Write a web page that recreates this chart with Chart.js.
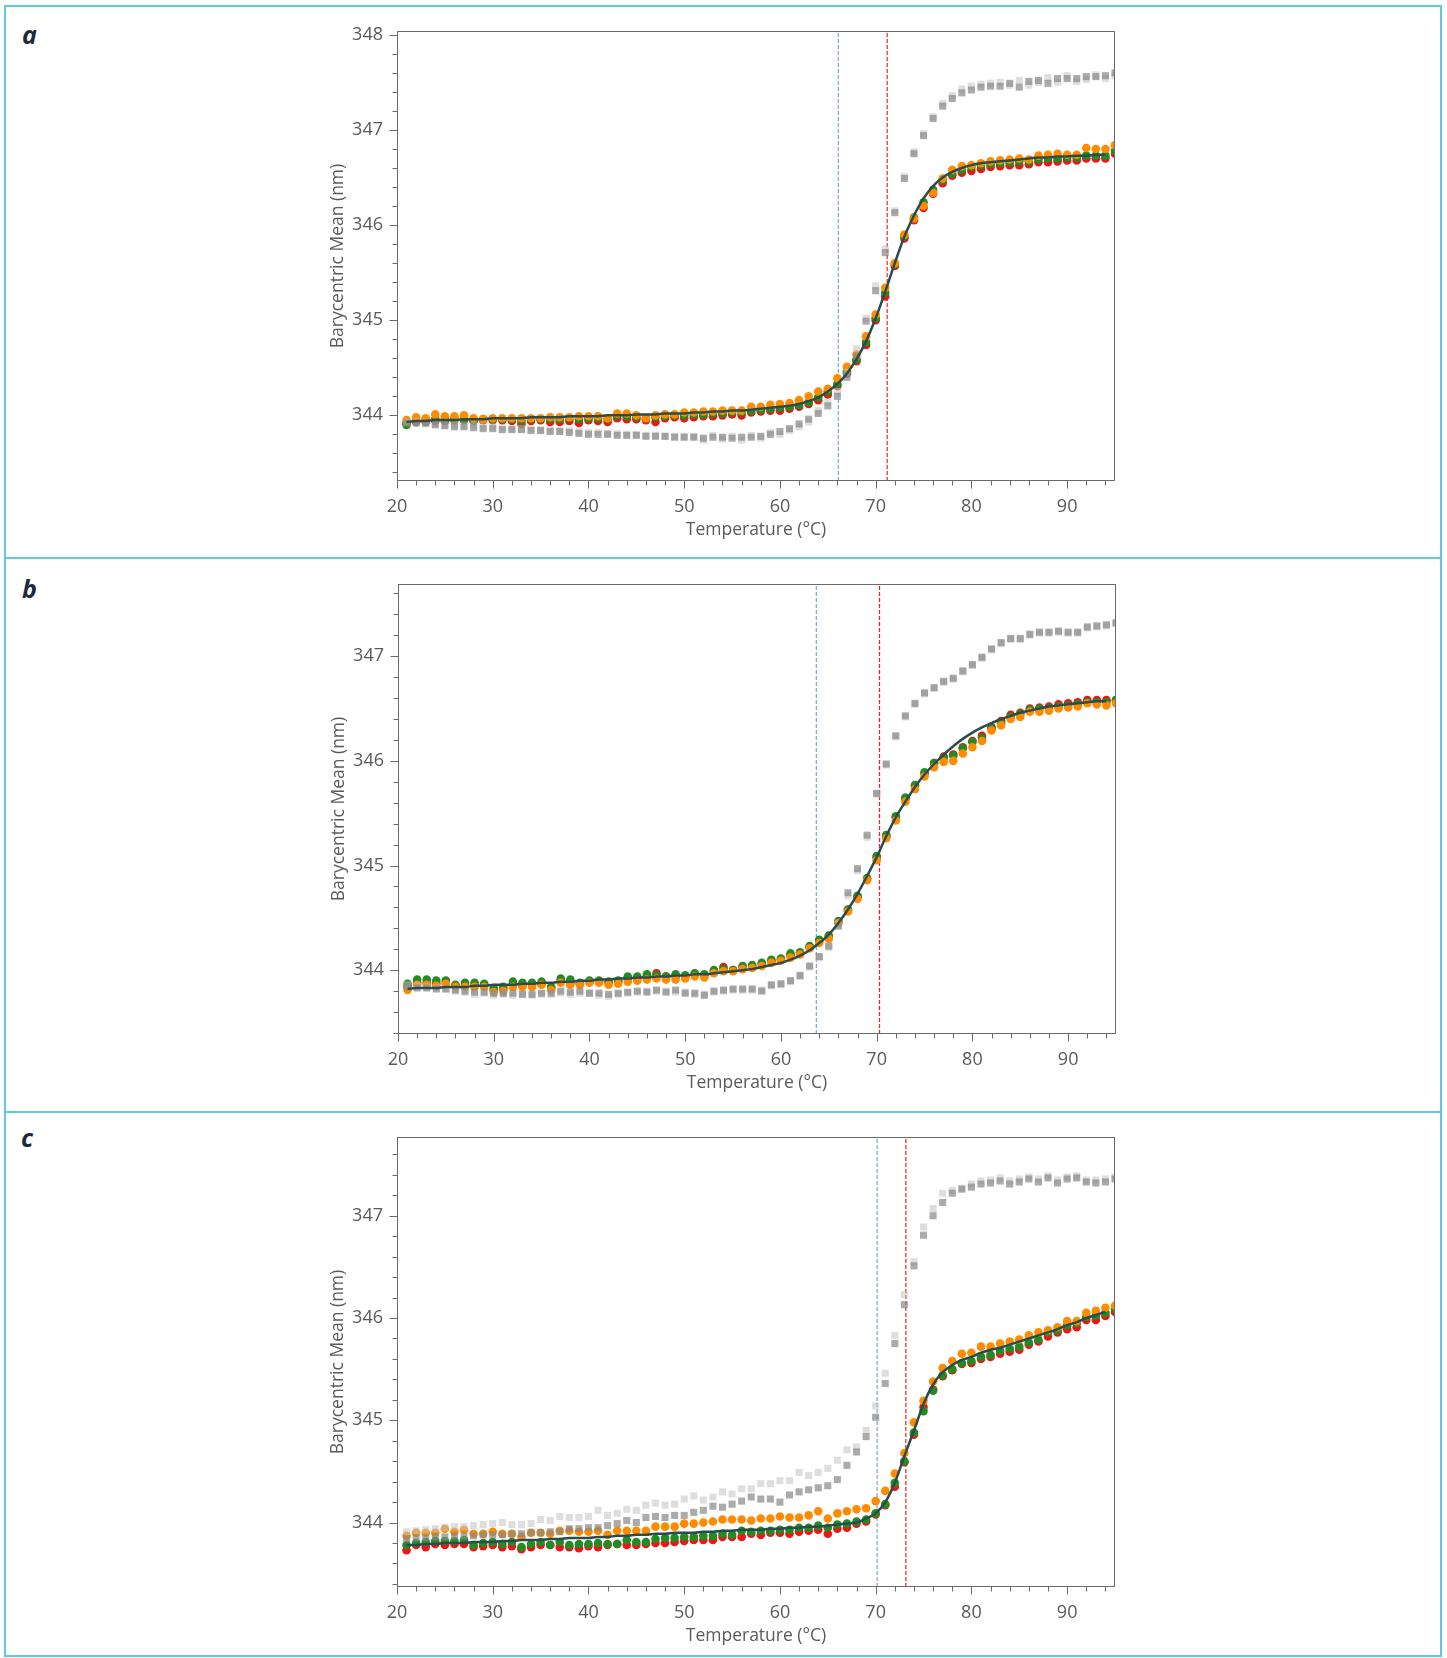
<!DOCTYPE html>
<html>
<head>
<meta charset="utf-8">
<script src="https://cdn.jsdelivr.net/npm/chart.js@4.4.1/dist/chart.umd.min.js"></script>
<style>
  body { margin: 0; background: #fff; width: 1447px; height: 1658px; position: relative; overflow: hidden; font-family: "Open Sans", sans-serif; }
  .panel { position: absolute; left: 4px; width: 1434px; border: 2px solid #5fc8e3; }
  #pa { top: 5px; height: 550px; }
  #pb { top: 557px; height: 552px; }
  #pc { top: 1111px; height: 542px; }
  .lab { position: absolute; font: italic 700 25px/1 "Open Sans", sans-serif; color: #1c2a3b; }
  canvas { position: absolute; }
  #ca { left: 240px; top: 10px; }
  #cb { left: 241px; top: 563px; }
  #cc { left: 240px; top: 1116px; }
</style>
</head>
<body>
<div class="panel" id="pa"></div>
<div class="panel" id="pb"></div>
<div class="panel" id="pc"></div>
<div class="lab" style="left:22px;top:22px">a</div>
<div class="lab" style="left:22px;top:576px">b</div>
<div class="lab" style="left:21px;top:1125px">c</div>
<canvas id="ca" width="900" height="540"></canvas>
<canvas id="cb" width="900" height="540"></canvas>
<canvas id="cc" width="900" height="540"></canvas>
<script>
// temperatures of the measured points (°C)
const temps = [21,22,23,24,25,26,27,28,29,30,31,32,33,34,35,36,37,38,39,40,41,42,43,44,45,46,47,48,49,50,
  51,52,53,54,55,56,57,58,59,60,61,62,63,64,65,66,67,68,69,70,71,72,73,74,75,76,77,78,79,80,
  81,82,83,84,85,86,87,88,89,90,91,92,93,94,95];
const xTickLabels = [20,30,40,50,60,70,80,90];

// ---- panel a ----
const aYTicks = [344,345,346,347,348];
const aOrange = [343.95,343.98,343.97,344.01,343.99,343.99,344.00,343.97,343.96,343.97,
  343.97,343.97,343.97,343.97,343.97,343.98,343.98,343.98,343.99,343.99,
  343.99,343.97,344.02,344.02,344.00,343.97,344.00,344.01,344.01,344.03,
  344.03,344.04,344.04,344.05,344.05,344.05,344.09,344.09,344.11,344.12,
  344.13,344.16,344.20,344.25,344.28,344.39,344.51,344.64,344.83,345.06,
  345.34,345.60,345.90,346.07,346.20,346.34,346.49,346.58,346.62,346.63,
  346.65,346.67,346.68,346.69,346.70,346.69,346.73,346.74,346.75,346.74,
  346.74,346.81,346.80,346.80,346.84];
const aRed = [343.92,343.93,343.93,343.94,343.94,343.95,343.95,343.94,343.95,343.95,
  343.95,343.94,343.91,343.94,343.95,343.93,343.93,343.94,343.92,343.95,
  343.94,343.93,343.97,343.96,343.96,343.95,343.93,343.97,343.98,343.97,
  343.98,343.99,343.99,344.00,344.01,344.00,344.03,344.04,344.05,344.05,
  344.07,344.09,344.12,344.16,344.22,344.31,344.44,344.57,344.74,345.00,
  345.25,345.57,345.86,346.05,346.18,346.33,346.44,346.52,346.55,346.57,
  346.59,346.61,346.62,346.63,346.63,346.64,346.66,346.66,346.67,346.68,
  346.68,346.70,346.70,346.70,346.75];
const aGreen = [343.90,343.95,343.95,343.96,343.96,343.96,343.96,343.95,343.96,343.96,
  343.96,343.96,343.94,343.96,343.96,343.96,343.96,343.97,343.96,343.97,
  343.97,343.96,344.00,343.99,343.98,343.97,343.98,343.99,344.00,344.00,
  344.01,344.01,344.02,344.02,344.03,344.03,344.05,344.06,344.07,344.08,
  344.09,344.11,344.14,344.19,344.25,344.33,344.46,344.59,344.77,345.02,
  345.29,345.59,345.88,346.08,346.24,346.37,346.47,346.54,346.58,346.61,
  346.63,346.64,346.65,346.66,346.67,346.67,346.69,346.70,346.70,346.71,
  346.71,346.73,346.73,346.73,346.78];
const aGrayDark = [343.92,343.92,343.92,343.90,343.89,343.88,343.88,343.87,343.86,343.86,
  343.85,343.85,343.85,343.84,343.84,343.83,343.83,343.82,343.81,343.80,
  343.80,343.80,343.79,343.79,343.79,343.78,343.78,343.78,343.77,343.77,
  343.77,343.76,343.77,343.77,343.76,343.77,343.77,343.78,343.80,343.83,
  343.86,343.91,343.96,344.02,344.10,344.20,344.40,344.62,344.99,345.31,
  345.71,346.13,346.49,346.75,346.94,347.12,347.25,347.33,347.39,347.42,
  347.45,347.46,347.46,347.49,347.45,347.51,347.52,347.49,347.54,347.54,
  347.54,347.56,347.56,347.57,347.60];
const aGrayLight = [343.93,343.93,343.91,343.91,343.90,343.90,343.89,343.89,343.88,343.88,
  343.87,343.86,343.86,343.86,343.85,343.85,343.84,343.84,343.83,343.82,
  343.82,343.81,343.81,343.80,343.80,343.79,343.79,343.78,343.78,343.78,
  343.78,343.74,343.79,343.75,343.78,343.74,343.79,343.76,343.82,343.80,
  343.84,343.88,343.93,344.05,344.14,344.25,344.45,344.70,345.02,345.36,
  345.75,346.15,346.51,346.77,346.96,347.14,347.28,347.36,347.43,347.46,
  347.48,347.49,347.50,347.47,347.52,347.47,347.50,347.55,347.50,347.57,
  347.51,347.53,347.58,347.54,347.57];
const aFit = [343.93,343.94,343.94,343.95,343.95,343.95,343.96,343.96,343.96,343.97,
  343.97,343.97,343.97,343.98,343.98,343.98,343.98,343.99,343.99,343.99,
  343.99,344.00,344.00,344.00,344.01,344.01,344.01,344.02,344.02,344.02,
  344.03,344.03,344.04,344.04,344.05,344.05,344.06,344.07,344.08,344.09,
  344.10,344.12,344.15,344.19,344.25,344.33,344.44,344.59,344.78,345.02,
  345.30,345.60,345.88,346.10,346.28,346.41,346.50,346.56,346.60,346.63,
  346.65,346.66,346.67,346.68,346.69,346.70,346.71,346.71,346.72,346.72,
  346.73,346.73,346.74,346.74];

// ---- panel b ----
const bYTicks = [344,345,346,347];
const bOrange = [343.81,343.86,343.86,343.85,343.87,343.84,343.84,343.84,343.84,343.79,
  343.80,343.84,343.84,343.84,343.86,343.81,343.88,343.86,343.86,343.88,
  343.88,343.86,343.87,343.89,343.90,343.91,343.92,343.91,343.91,343.92,
  343.94,343.93,343.97,343.99,343.99,344.01,344.02,344.04,344.07,344.09,
  344.12,344.15,344.21,344.26,344.30,344.45,344.56,344.68,344.86,345.05,
  345.26,345.43,345.61,345.73,345.85,345.94,345.99,346.00,346.07,346.13,
  346.19,346.29,346.34,346.40,346.42,346.47,346.47,346.48,346.50,346.51,
  346.52,346.55,346.54,346.53,346.55];
const bGreen = [343.87,343.91,343.91,343.90,343.90,343.86,343.88,343.88,343.87,343.83,
  343.84,343.89,343.88,343.88,343.89,343.84,343.92,343.91,343.88,343.90,
  343.90,343.89,343.90,343.94,343.94,343.96,343.95,343.94,343.96,343.95,
  343.97,343.96,344.00,344.01,344.00,344.04,344.05,344.07,344.10,344.11,
  344.16,344.17,344.23,344.29,344.33,344.47,344.58,344.71,344.88,345.09,
  345.29,345.47,345.65,345.77,345.89,345.98,346.03,346.05,346.12,346.18,
  346.22,346.31,346.36,346.42,346.45,346.49,346.50,346.50,346.52,346.53,
  346.54,346.56,346.56,346.56,346.58];
const bRed = [343.84,343.88,343.88,343.87,343.88,343.85,343.86,343.86,343.86,343.81,
  343.82,343.86,343.86,343.86,343.87,343.83,343.90,343.88,343.87,343.89,
  343.89,343.88,343.89,343.92,343.92,343.94,343.97,343.94,343.94,343.94,
  343.96,343.95,343.99,344.03,344.00,344.03,344.04,344.06,344.09,344.10,
  344.14,344.16,344.22,344.28,344.32,344.46,344.57,344.70,344.87,345.08,
  345.28,345.46,345.64,345.76,345.88,345.98,346.04,346.06,346.13,346.19,
  346.24,346.32,346.38,346.44,346.46,346.50,346.51,346.52,346.54,346.55,
  346.56,346.58,346.58,346.58,346.58];
const bGrayDark = [343.84,343.83,343.83,343.82,343.82,343.81,343.80,343.79,343.79,343.78,
  343.78,343.78,343.77,343.77,343.78,343.78,343.80,343.79,343.80,343.78,
  343.78,343.77,343.78,343.79,343.80,343.79,343.81,343.79,343.81,343.78,
  343.78,343.76,343.80,343.81,343.82,343.82,343.82,343.80,343.86,343.87,
  343.90,343.95,344.04,344.13,344.23,344.42,344.74,344.97,345.29,345.69,
  345.97,346.24,346.43,346.55,346.65,346.70,346.76,346.79,346.86,346.92,
  346.99,347.07,347.13,347.17,347.17,347.21,347.23,347.23,347.24,347.23,
  347.23,347.28,347.29,347.30,347.32];
const bGrayLight = [343.86,343.85,343.84,343.83,343.82,343.80,343.79,343.77,343.78,343.76,
  343.77,343.76,343.77,343.76,343.77,343.77,343.78,343.77,343.78,343.78,
  343.76,343.75,343.77,343.78,343.79,343.80,343.80,343.80,343.79,343.79,
  343.77,343.77,343.79,343.80,343.81,343.81,343.81,343.81,343.85,343.86,
  343.89,343.94,344.03,344.12,344.22,344.44,344.71,344.95,345.27,345.68,
  345.96,346.23,346.42,346.54,346.64,346.69,346.75,346.78,346.85,346.91,
  346.98,347.06,347.12,347.16,347.16,347.20,347.22,347.22,347.23,347.22,
  347.22,347.27,347.28,347.29,347.31];
const bFit = [343.82,343.83,343.83,343.83,343.84,343.84,343.84,343.85,343.85,343.86,
  343.86,343.86,343.87,343.87,343.88,343.88,343.89,343.89,343.90,343.90,
  343.91,343.91,343.92,343.92,343.93,343.93,343.94,343.94,343.95,343.95,
  343.96,343.96,343.97,343.98,343.99,344.00,344.01,344.03,344.05,344.07,
  344.10,344.14,344.19,344.26,344.34,344.45,344.58,344.73,344.90,345.08,
  345.28,345.46,345.61,345.75,345.87,345.97,346.06,346.14,346.21,346.27,
  346.32,346.36,346.40,346.43,346.46,346.48,346.50,346.52,346.53,346.54,
  346.55,346.56,346.57,346.57];

// ---- panel c ----
const cYTicks = [344,345,346,347];
const cOrange = [343.87,343.90,343.90,343.90,343.94,343.91,343.93,343.89,343.89,343.91,
  343.89,343.89,343.86,343.90,343.90,343.89,343.92,343.92,343.91,343.91,
  343.92,343.88,343.92,343.92,343.92,343.92,343.96,343.96,343.96,343.99,
  343.99,344.00,344.01,344.03,344.03,344.03,344.02,344.04,344.04,344.06,
  344.05,344.05,344.07,344.11,344.04,344.09,344.11,344.13,344.14,344.21,
  344.31,344.48,344.68,344.98,345.19,345.38,345.51,345.58,345.65,345.66,
  345.72,345.72,345.75,345.77,345.79,345.83,345.86,345.88,345.91,345.97,
  345.97,346.05,346.07,346.10,346.12];
const cGreen = [343.78,343.80,343.81,343.82,343.82,343.82,343.83,343.78,343.80,343.81,
  343.79,343.81,343.76,343.79,343.81,343.78,343.81,343.78,343.79,343.79,
  343.80,343.79,343.79,343.83,343.81,343.81,343.84,343.85,343.85,343.86,
  343.86,343.87,343.87,343.89,343.88,343.92,343.91,343.92,343.92,343.93,
  343.93,343.95,343.95,343.97,343.95,343.98,343.99,344.01,344.03,344.09,
  344.18,344.39,344.60,344.88,345.09,345.29,345.44,345.50,345.56,345.58,
  345.62,345.64,345.68,345.70,345.72,345.76,345.79,345.86,345.88,345.93,
  345.95,346.01,346.02,346.05,346.09];
const cRed = [343.73,343.78,343.76,343.79,343.78,343.79,343.79,343.76,343.77,343.78,
  343.76,343.77,343.74,343.76,343.78,343.78,343.76,343.76,343.75,343.77,
  343.76,343.78,343.79,343.78,343.78,343.79,343.80,343.80,343.81,343.82,
  343.83,343.83,343.83,343.86,343.86,343.86,343.89,343.88,343.90,343.90,
  343.89,343.91,343.92,343.93,343.89,343.94,343.95,343.99,344.01,344.08,
  344.17,344.35,344.59,344.86,345.13,345.30,345.43,345.49,345.55,345.56,
  345.60,345.62,345.65,345.67,345.69,345.74,345.77,345.82,345.86,345.89,
  345.91,345.98,345.98,346.02,346.06];
const cGrayDark = [343.84,343.85,343.85,343.86,343.86,343.87,343.87,343.87,343.88,343.88,
  343.88,343.89,343.89,343.90,343.90,343.91,343.91,343.94,343.94,343.95,
  343.95,343.97,343.99,344.02,344.00,344.05,344.06,344.05,344.07,344.07,
  344.10,344.12,344.16,344.15,344.18,344.21,344.25,344.23,344.23,344.20,
  344.27,344.30,344.32,344.34,344.36,344.42,344.56,344.69,344.84,345.03,
  345.36,345.75,346.13,346.51,346.81,347.00,347.13,347.22,347.26,347.28,
  347.31,347.32,347.34,347.31,347.33,347.36,347.33,347.37,347.32,347.36,
  347.37,347.33,347.32,347.33,347.36];
const cGrayLight = [343.91,343.92,343.93,343.94,343.95,343.96,343.96,343.97,343.98,343.99,
  344.00,343.98,343.98,343.99,344.03,344.02,344.06,344.05,344.05,344.06,
  344.12,344.07,344.09,344.13,344.12,344.17,344.19,344.17,344.18,344.23,
  344.26,344.22,344.25,344.30,344.28,344.33,344.33,344.38,344.38,344.41,
  344.41,344.49,344.46,344.49,344.53,344.61,344.71,344.74,344.90,345.14,
  345.46,345.83,346.23,346.55,346.89,347.07,347.22,347.25,347.27,347.31,
  347.34,347.35,347.37,347.34,347.36,347.38,347.36,347.39,347.35,347.38,
  347.39,347.35,347.35,347.36,347.38];
const cFit = [343.78,343.78,343.79,343.79,343.80,343.80,343.80,343.81,343.81,343.81,
  343.82,343.82,343.83,343.83,343.83,343.84,343.84,343.85,343.85,343.85,
  343.86,343.86,343.87,343.87,343.88,343.88,343.89,343.89,343.90,343.90,
  343.90,343.91,343.91,343.92,343.92,343.93,343.93,343.93,343.94,343.94,
  343.95,343.95,343.96,343.96,343.97,343.98,343.99,344.00,344.04,344.09,
  344.20,344.39,344.65,344.90,345.16,345.35,345.47,345.54,345.59,345.62,
  345.66,345.69,345.71,345.74,345.77,345.80,345.83,345.86,345.89,345.93,
  345.96,346.00,346.03,346.06];

// onset (blue) and Tm (red) marker temperatures
const aMarks = [66.1, 71.2];
const bMarks = [63.7, 70.3];
const cMarks = [70.15, 73.15];

const textColor = '#5a5a5a';
const tickFont = { family: 'Open Sans', size: 18 };
const titleFont = { family: 'Open Sans', size: 17.5 };

// plot frame plus major / minor tick marks
const frameTicks = {
  id: 'frameTicks',
  afterDatasetsDraw(chart) {
    const { ctx, chartArea: a, scales: { x, y } } = chart;
    const L = Math.round(a.left) + 0.5, R = Math.round(a.right) - 0.5;
    const T = Math.round(a.top) + 0.5, B = Math.round(a.bottom) - 0.5;
    ctx.save();
    ctx.strokeStyle = '#6a6a6a';
    ctx.lineWidth = 1;
    ctx.strokeRect(L, T, R - L, B - T);
    ctx.beginPath();
    for (let v = 20; v <= 94; v += 2) {
      const px = Math.round(x.getPixelForValue(v)) + 0.5;
      const len = v % 10 === 0 ? 8 : 5;
      ctx.moveTo(px, B); ctx.lineTo(px, B + len);
    }
    for (let k = Math.ceil(y.min * 5); k <= Math.floor(y.max * 5); k++) {
      const py = Math.round(y.getPixelForValue(k / 5)) + 0.5;
      const len = k % 5 === 0 ? 8 : 5;
      ctx.moveTo(L, py); ctx.lineTo(L - len, py);
    }
    ctx.stroke();
    ctx.restore();
  }
};

function drawPanel(id, p) {
  const pts = vals => temps.slice(0, vals.length).map((t, i) => ({ x: t, y: vals[i] }));
  const dots = (vals, color, order) => ({
    data: pts(vals), pointStyle: 'circle', pointRadius: 4.3, pointHoverRadius: 4.3,
    backgroundColor: color, borderWidth: 0, pointBorderWidth: 0, order
  });
  const squares = (vals, color, order) => ({
    data: pts(vals), pointStyle: 'rect', pointRadius: 5, pointHoverRadius: 5,
    backgroundColor: color, borderWidth: 0, pointBorderWidth: 0, order
  });
  const vline = (t, color) => ({
    data: [{ x: t, y: p.yMin }, { x: t, y: p.yMax }], showLine: true,
    borderColor: color, borderWidth: 1.2, borderDash: [4, 2], pointRadius: 0, order: 9
  });
  new Chart(document.getElementById(id), {
    type: 'scatter',
    data: {
      datasets: [
        { data: pts(p.fit), showLine: true, borderColor: '#2c4b4d', borderWidth: 2.5,
          pointRadius: 0, cubicInterpolationMode: 'monotone', order: 0 },
        squares(p.grayDark, 'rgba(135,135,135,0.7)', 1),
        squares(p.grayLight, 'rgba(195,195,195,0.55)', 2),
        dots(p.orange, '#ff8c00', 3),
        dots(p.green, '#238b23', 4),
        dots(p.red, '#f01414', 5),
        vline(p.marks[0], '#78a8d8'),
        vline(p.marks[1], '#ff1a1a')
      ]
    },
    options: {
      responsive: false,
      animation: false,
      devicePixelRatio: 1,
      layout: { padding: { left: 88, right: 25, top: 21, bottom: 9 } },
      plugins: { legend: { display: false }, tooltip: { enabled: false } },
      scales: {
        x: {
          type: 'linear', min: 20, max: 95,
          grid: { display: false, drawTicks: false }, border: { display: false },
          afterBuildTicks: s => { s.ticks = xTickLabels.map(v => ({ value: v })); },
          afterFit: s => { s.height = 60; },
          ticks: { padding: 15, color: textColor, font: tickFont, maxRotation: 0, autoSkip: false,
                   callback: v => String(v) },
          title: { display: true, text: 'Temperature (°C)', color: textColor, font: titleFont, padding: 0 }
        },
        y: {
          type: 'linear', min: p.yMin, max: p.yMax,
          grid: { display: false, drawTicks: false }, border: { display: false },
          afterBuildTicks: s => { s.ticks = p.yTicks.map(v => ({ value: v })); },
          afterFit: s => { s.width = 69; s.paddingTop = 0; s.paddingBottom = 0; },
          ticks: { padding: 14, color: textColor, font: tickFont, autoSkip: false,
                   callback: v => String(v) },
          title: { display: true, text: 'Barycentric Mean (nm)', color: textColor, font: titleFont, padding: 0 }
        }
      }
    },
    plugins: [frameTicks]
  });
}

drawPanel('ca', { fit: aFit, orange: aOrange, red: aRed, green: aGreen, grayDark: aGrayDark,
  grayLight: aGrayLight, yTicks: aYTicks, yMin: 343.31, yMax: 348.04, marks: aMarks });
drawPanel('cb', { fit: bFit, orange: bOrange, red: bRed, green: bGreen, grayDark: bGrayDark,
  grayLight: bGrayLight, yTicks: bYTicks, yMin: 343.39, yMax: 347.69, marks: bMarks });
drawPanel('cc', { fit: cFit, orange: cOrange, red: cRed, green: cGreen, grayDark: cGrayDark,
  grayLight: cGrayLight, yTicks: cYTicks, yMin: 343.37, yMax: 347.77, marks: cMarks });
</script>
</body>
</html>
